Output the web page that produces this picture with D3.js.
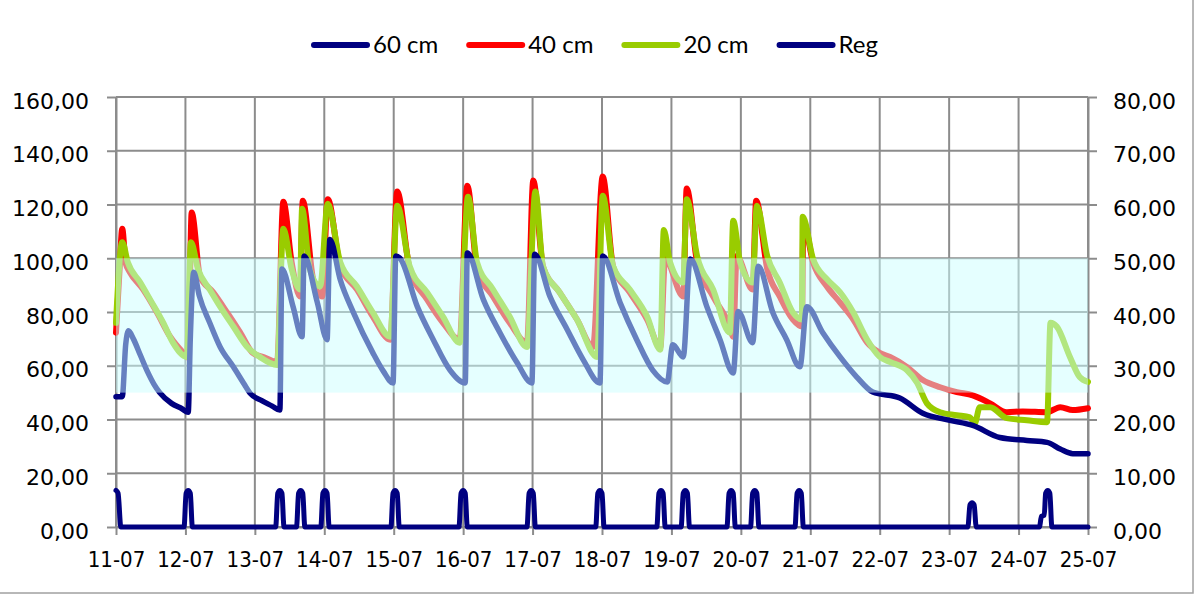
<!DOCTYPE html>
<html>
<head>
<meta charset="utf-8">
<script src="https://cdn.jsdelivr.net/npm/d3@7"></script>
<style>
  html, body { margin: 0; padding: 0; background: #fff; }
  svg { display: block; }
</style>
</head>
<body>
<div id="chart"></div>
<script>
// time is counted in days from 11-07 00:00
const dayLabels = ["11-07", "12-07", "13-07", "14-07", "15-07", "16-07", "17-07", "18-07",
                   "19-07", "20-07", "21-07", "22-07", "23-07", "24-07", "25-07"];
const leftTicks = [0, 20, 40, 60, 80, 100, 120, 140, 160];
const rightTicks = [0, 10, 20, 30, 40, 50, 60, 70, 80];
const optimumBand = [50, 100];
const legendNames = ["60 cm", "40 cm", "20 cm", "Reg"];

// [day, value] on the left axis
const series60 = [
    [0, 48.5], [0.09, 48.5], [0.14, 68], [0.18, 73], [0.25, 70], [0.35, 64], [0.45, 58], [0.55, 53],
    [0.63, 50], [0.8, 46], [0.95, 44], [1.04, 42.7],
    [1.07, 70], [1.12, 94.8], [1.2, 86], [1.35, 76], [1.5, 67], [1.69, 59.6], [1.85, 53], [1.93, 49.8],
    [2.1, 47], [2.25, 45], [2.36, 43.5],
    [2.39, 96], [2.55, 82], [2.68, 70.8],
    [2.71, 100.8], [2.9, 83.5], [3.04, 69.7],
    [3.08, 107], [3.23, 92], [3.42, 79.8], [3.7, 64.8], [3.85, 58], [3.99, 53.6],
    [4.03, 100.8], [4.09, 100], [4.34, 82], [4.57, 69.7], [4.81, 58.4], [5.03, 53.6],
    [5.06, 102], [5.29, 84.7], [5.53, 72.3], [5.78, 61], [5.99, 53.6],
    [6.03, 101.5], [6.25, 85.8], [6.5, 73.4], [6.73, 62.2], [6.97, 53.6],
    [7.01, 100.8], [7.26, 83.5], [7.5, 69.7], [7.73, 58.4], [7.94, 54],
    [8.02, 67.8], [8.17, 63.3], [8.27, 99.7], [8.51, 82], [8.7, 69.7], [8.89, 57.3],
    [8.96, 80.2], [9.17, 68.6], [9.25, 97], [9.46, 79.8], [9.66, 69.7], [9.85, 59.6],
    [9.95, 82], [10.18, 72.3], [10.43, 63.3], [10.67, 55.8], [10.9, 50.2],
    [11.29, 48], [11.62, 42.3], [12.01, 39.7], [12.34, 37.8], [12.73, 33.3], [13.12, 32.2],
    [13.41, 31.5], [13.6, 29], [13.78, 27.3], [14, 27.3]
];

const series40 = [
    [0, 72.3], [0.05, 95], [0.09, 111], [0.14, 98], [0.2, 94.8], [0.39, 88.4], [0.59, 79.8],
    [0.78, 70.8], [0.97, 64.8], [1.04, 63],
    [1.09, 117], [1.21, 93.3], [1.4, 87.3], [1.6, 79.8], [1.79, 72.3], [1.97, 64.8], [2.15, 63], [2.32, 61.4],
    [2.41, 121], [2.53, 98.5], [2.65, 85.8],
    [2.69, 121.4], [2.84, 92.2], [2.97, 85.8],
    [3.05, 122], [3.23, 97], [3.47, 88.4], [3.7, 78.3], [3.95, 69.7],
    [4.05, 124.8], [4.23, 96], [4.48, 84.7], [4.71, 76], [4.95, 69.7],
    [5.06, 127], [5.2, 96], [5.43, 85.8], [5.67, 76], [5.92, 68.6],
    [6.01, 128.9], [6.15, 97], [6.39, 87.3], [6.64, 77.2], [6.87, 67],
    [7.01, 130.4], [7.16, 97], [7.4, 87.3], [7.65, 77.2], [7.84, 67],
    [7.91, 99.7], [8.17, 85.8], [8.22, 126], [8.37, 98.5], [8.6, 85.8], [8.84, 74.6], [8.89, 70.8],
    [8.94, 100.8], [9.17, 88.4], [9.22, 121.4], [9.38, 96], [9.56, 85.8], [9.75, 77.2], [9.88, 74.6],
    [9.9, 113.5], [10.04, 98.5], [10.24, 89.5], [10.43, 83.5], [10.62, 77.2], [10.82, 68.6], [11, 64.8],
    [11.15, 63.3], [11.39, 59.6], [11.62, 54.7], [11.87, 52], [12.11, 50.2], [12.34, 49], [12.59, 46],
    [12.83, 42.7], [13.06, 43], [13.41, 42.7], [13.6, 44.6], [13.78, 43.5], [14, 44.2]
];

const series20 = [
    [0, 76], [0.09, 106], [0.17, 98.5], [0.35, 91], [0.49, 84.7], [0.68, 76], [0.82, 68.6], [1.02, 63.3],
    [1.08, 106], [1.18, 96], [1.35, 88.4], [1.5, 82], [1.69, 74.6], [1.89, 67], [2.07, 63.3], [2.32, 60.3],
    [2.41, 111], [2.53, 96], [2.65, 88.4],
    [2.68, 118.4], [2.79, 96], [2.94, 89.5],
    [3.05, 120.3], [3.23, 98.5], [3.47, 89.5], [3.7, 79.8], [3.95, 70.8],
    [4.05, 119.5], [4.23, 97], [4.48, 87.3], [4.71, 78.3], [4.95, 68.6],
    [5.07, 122.9], [5.2, 98.5], [5.43, 88.4], [5.67, 78.3], [5.92, 67],
    [6.04, 124.8], [6.15, 97], [6.39, 87.3], [6.64, 77.2], [6.93, 63.3],
    [7.01, 123.3], [7.16, 97], [7.4, 88.4], [7.65, 78.3], [7.84, 66],
    [7.89, 110.5], [7.98, 98.5], [8.17, 91], [8.22, 122], [8.37, 100.8], [8.6, 88.4], [8.84, 72.3],
    [8.89, 114], [8.99, 98.5], [9.17, 91], [9.23, 119.5], [9.38, 100.8], [9.56, 91], [9.75, 79.8], [9.88, 77.2],
    [9.89, 115.4], [10.04, 99.7], [10.24, 92.2], [10.43, 87.3], [10.62, 79.8], [10.82, 69.7], [11, 63.3],
    [11.15, 61.4], [11.39, 58.4], [11.54, 53.6], [11.68, 46], [11.87, 42.7], [12.11, 41.6], [12.3, 40.8],
    [12.37, 38.6], [12.44, 44.6], [12.59, 44.6], [12.83, 40.5], [13.12, 39.7], [13.41, 39],
    [13.46, 76], [13.55, 74.6], [13.74, 63.3], [13.88, 55.8], [14, 54]
];

// [day, value] on the right axis
const seriesReg = [
    [0, 6.8], [0.03, 6.3], [0.07, 0],
    [0.98, 0], [1.01, 6.3], [1.04, 6.8], [1.07, 6.3], [1.10, 0],
    [2.30, 0], [2.33, 6.3], [2.36, 6.8], [2.39, 6.3], [2.42, 0],
    [2.60, 0], [2.63, 6.3], [2.66, 6.8], [2.69, 6.3], [2.72, 0],
    [2.95, 0], [2.98, 6.3], [3.01, 6.8], [3.04, 6.3], [3.07, 0],
    [3.96, 0], [3.99, 6.3], [4.02, 6.8], [4.05, 6.3], [4.08, 0],
    [4.94, 0], [4.97, 6.3], [5.00, 6.8], [5.03, 6.3], [5.06, 0],
    [5.92, 0], [5.95, 6.3], [5.98, 6.8], [6.01, 6.3], [6.04, 0],
    [6.91, 0], [6.94, 6.3], [6.97, 6.8], [7.00, 6.3], [7.03, 0],
    [7.79, 0], [7.82, 6.3], [7.85, 6.8], [7.88, 6.3], [7.91, 0],
    [8.14, 0], [8.17, 6.3], [8.20, 6.8], [8.23, 6.3], [8.26, 0],
    [8.80, 0], [8.83, 6.3], [8.86, 6.8], [8.89, 6.3], [8.92, 0],
    [9.14, 0], [9.17, 6.3], [9.20, 6.8], [9.23, 6.3], [9.26, 0],
    [9.78, 0], [9.81, 6.3], [9.84, 6.8], [9.87, 6.3], [9.90, 0],
    [12.27, 0], [12.30, 4.1], [12.33, 4.5], [12.36, 4.1], [12.39, 0],
    [13.30, 0], [13.33, 2], [13.37, 2.2], [13.39, 6.3], [13.42, 6.8], [13.45, 6.3], [13.48, 0],
    [14, 0]
];

const SETTINGS = {
    width: 1197,
    height: 596,
    margins: {top: 97, right: 109, bottom: 69, left: 116},
    gridColor: "#8c8c8c",
    colors: {s60: "#000080", s40: "#ff0000", s20: "#99cc00", reg: "#000080"},
    axisFont: "'DejaVu Sans', Verdana, sans-serif",
    legendFont: "Lato, 'Open Sans', sans-serif"
};

const comma = d3.formatLocale({decimal: ",", thousands: ".", grouping: [3], currency: ["", ""]});
const fmt = comma.format(".2f");

const m = SETTINGS.margins;
const innerW = SETTINGS.width - m.left - m.right;
const innerH = SETTINGS.height - m.top - m.bottom;

const svg = d3.select("#chart").append("svg")
    .attr("width", SETTINGS.width)
    .attr("height", SETTINGS.height);

svg.append("rect")
    .attr("x", -2).attr("y", -2)
    .attr("width", 1195).attr("height", 595)
    .attr("fill", "#fff")
    .attr("stroke", "#a0a0a0")
    .attr("stroke-width", 1.5);

const g = svg.append("g").attr("transform", `translate(${m.left},${m.top})`);

const x = d3.scaleLinear().domain([0, dayLabels.length - 1]).range([0, innerW]);
const yLeft = d3.scaleLinear().domain([0, 160]).range([innerH, 0]);
const yRight = d3.scaleLinear().domain([0, 80]).range([innerH, 0]);

//gridlines
g.append("g").selectAll("line")
    .data(leftTicks)
    .join("line")
    .attr("x1", 0).attr("x2", innerW)
    .attr("y1", d => yLeft(d)).attr("y2", d => yLeft(d))
    .attr("stroke", SETTINGS.gridColor).attr("stroke-width", 2);

g.append("g").selectAll("line")
    .data(d3.range(dayLabels.length))
    .join("line")
    .attr("x1", d => x(d)).attr("x2", d => x(d))
    .attr("y1", 0).attr("y2", innerH)
    .attr("stroke", SETTINGS.gridColor).attr("stroke-width", 2);

function styleAxis(sel){
    sel.select(".domain").attr("stroke", SETTINGS.gridColor).attr("stroke-width", 2);
    sel.selectAll(".tick line").attr("stroke", SETTINGS.gridColor).attr("stroke-width", 2);
    sel.selectAll(".tick text")
        .attr("fill", "#000")
        .style("font-family", SETTINGS.axisFont)
        .style("font-size", "22px");
}

const leftAxis = d3.axisLeft(yLeft).tickValues(leftTicks).tickFormat(fmt)
    .tickSizeInner(9).tickSizeOuter(0).tickPadding(18);
g.append("g").call(leftAxis).call(styleAxis)
    .selectAll(".tick text").attr("dy", "11px");

const rightAxis = d3.axisRight(yRight).tickValues(rightTicks).tickFormat(fmt)
    .tickSizeInner(9).tickSizeOuter(0).tickPadding(16);
g.append("g").attr("transform", `translate(${innerW},0)`).call(rightAxis).call(styleAxis)
    .selectAll(".tick text").attr("dy", "11px");

const xAxis = d3.axisBottom(x).tickValues(d3.range(dayLabels.length))
    .tickFormat(i => dayLabels[i]).tickSizeInner(8).tickSizeOuter(0).tickPadding(10);
g.append("g").attr("transform", `translate(0,${innerH})`).call(xAxis).call(styleAxis)
    .selectAll(".tick text")
    .attr("y", 40).attr("dy", 0)
    .style("font-family", "'DejaVu Sans Condensed', 'DejaVu Sans', sans-serif")
    .style("font-stretch", "condensed")
    .style("font-size", "22px");

//series lines
const lineLeft = d3.line().x(d => x(d[0])).y(d => yLeft(d[1])).curve(d3.curveMonotoneX);
const lineRight = d3.line().x(d => x(d[0])).y(d => yRight(d[1])).curve(d3.curveMonotoneX);

function drawSeries(data, gen, color, width){
    return g.append("path")
        .datum(data)
        .attr("d", gen)
        .attr("fill", "none")
        .attr("stroke", color)
        .attr("stroke-width", width)
        .attr("stroke-linejoin", "round")
        .attr("stroke-linecap", "round");
}

drawSeries(series40, lineLeft, SETTINGS.colors.s40, 6);
drawSeries(series20, lineLeft, SETTINGS.colors.s20, 6);
drawSeries(series60, lineLeft, SETTINGS.colors.s60, 5.5);
drawSeries(seriesReg, lineRight, SETTINGS.colors.reg, 5);

//translucent optimum band drawn over the lines
g.append("rect")
    .attr("x", 0)
    .attr("y", yLeft(optimumBand[1]))
    .attr("width", innerW)
    .attr("height", yLeft(optimumBand[0]) - yLeft(optimumBand[1]))
    .attr("fill", "#ccffff")
    .attr("fill-opacity", 0.5);

//legend
const legendColors = [SETTINGS.colors.s60, SETTINGS.colors.s40, SETTINGS.colors.s20, SETTINGS.colors.reg];
const legend = svg.append("g");
let lx = 311;
legendNames.forEach((name, i) => {
    legend.append("line")
        .attr("x1", lx + 3).attr("x2", lx + 56)
        .attr("y1", 45).attr("y2", 45)
        .attr("stroke", legendColors[i])
        .attr("stroke-width", 6)
        .attr("stroke-linecap", "round");
    const t = legend.append("text")
        .attr("x", lx + 62).attr("y", 53)
        .style("font-family", SETTINGS.legendFont)
        .style("font-size", "24px")
        .attr("fill", "#000")
        .text(name);
    lx = lx + 62 + t.node().getComputedTextLength() + 28;
});
</script>
</body>
</html>
